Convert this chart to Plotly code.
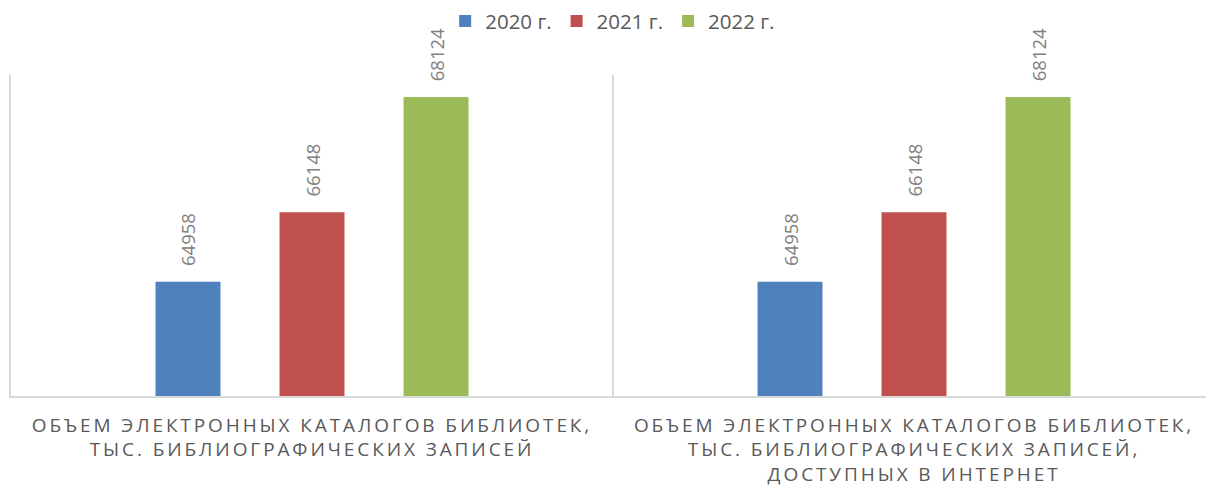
import plotly.graph_objects as go

categories = [
    "ОБЪЕМ ЭЛЕКТРОННЫХ КАТАЛОГОВ БИБЛИОТЕК,<br>ТЫС. БИБЛИОГРАФИЧЕСКИХ ЗАПИСЕЙ",
    "ОБЪЕМ ЭЛЕКТРОННЫХ КАТАЛОГОВ БИБЛИОТЕК,<br>ТЫС. БИБЛИОГРАФИЧЕСКИХ ЗАПИСЕЙ,<br>ДОСТУПНЫХ В ИНТЕРНЕТ",
]
series_names = ["2020 г.", "2021 г.", "2022 г."]
values_2020 = [64958, 64958]
values_2021 = [66148, 66148]
values_2022 = [68124, 68124]
colors = ["#4f81bd", "#c0504d", "#9bbb59"]

fig = go.Figure()
for name, vals, col in zip(series_names, [values_2020, values_2021, values_2022], colors):
    fig.add_trace(go.Bar(
        x=categories, y=vals, name=name,
        marker=dict(color=col, line=dict(width=0)),
        text=["\u00a0\u00a0\u2009" + str(v) for v in vals],
        texttemplate="%{text}",
        textposition="outside",
        textangle=-90,
        constraintext="none",
        textfont=dict(family="Open Sans", size=18.5, color="#808080"),
        cliponaxis=False,
        hoverinfo="skip",
    ))

fig.update_layout(
    width=1206, height=486,
    margin=dict(l=11, r=0, t=75, b=90, autoexpand=False),
    paper_bgcolor="white", plot_bgcolor="white",
    barmode="group", bargap=0.382, bargroupgap=0.476,
    showlegend=True,
    legend=dict(orientation="h", x=0.5035, xanchor="center", y=1.23, yanchor="top",
                bgcolor="rgba(0,0,0,0)",
                font=dict(family="Open Sans", size=20.5, color="#595959"),
                itemwidth=30, tracegroupgap=0),
    xaxis=dict(type="category", range=[-0.5, 1.485], tickson="boundaries",
               showgrid=True, gridcolor="#d9d9d9", gridwidth=1.5,
               showline=True, linecolor="#d9d9d9", linewidth=1.5,
               ticks="", ticklabelstandoff=11, automargin=False,
               tickfont=dict(family="Open Sans", size=19, color="#595959")),
    yaxis=dict(range=[63000, 68500], showticklabels=False, showgrid=False, zeroline=False,
               showline=True, linecolor="#d9d9d9", linewidth=1.5, ticks="", automargin=False),
)

post = """
document.body.style.margin='0';
document.querySelectorAll('.xtick text').forEach(function(t){t.style.letterSpacing='2.9px';});
"""
fig.write_html("out.html", post_script=post, config={"displayModeBar": False})
